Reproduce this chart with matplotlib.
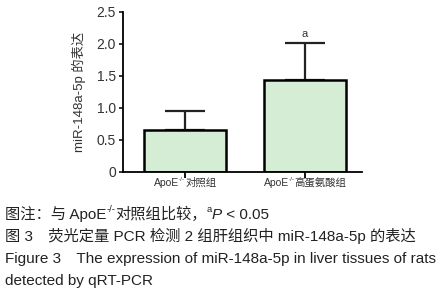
import matplotlib
matplotlib.use("Agg")
import matplotlib.pyplot as plt
from matplotlib.transforms import IdentityTransform

plt.rcParams["font.family"] = ["Liberation Sans", "Noto Sans CJK SC"]

# each group label: (base, superscript, rest)
groups = [("ApoE", "-/-", "对照组"), ("ApoE", "-/-", "高蛋氨酸组")]
means = [0.65, 1.43]
errors = [0.30, 0.58]
sig_marks = ["", "a"]
yticks = [0, 0.5, 1.0, 1.5, 2.0, 2.5]
ytick_labels = ["0", "0.5", "1.0", "1.5", "2.0", "2.5"]

# caption lines as runs of (text, kind)
captions = [
    [("图注：与 ApoE", "n"), ("-/-", "sup"), ("对照组比较，", "n"), ("a", "sup"),
     ("P", "it"), (" < 0.05", "n")],
    [("图 3　荧光定量 PCR 检测 2 组肝组织中 miR-148a-5p 的表达", "n")],
    [("Figure 3　The expression of miR-148a-5p in liver tissues of rats", "n")],
    [("detected by qRT-PCR", "n")],
]

DPI = 100
fig = plt.figure(figsize=(4.46, 3.0), dpi=DPI)
renderer = fig.canvas.get_renderer()


def rich_text(x_px, y_px, runs, size, ha="left", color="#222222"):
    """Place runs of text one after another on one baseline, in pixels."""
    objs = []
    for s, kind in runs:
        fs = size * 0.62 if kind == "sup" else size
        style = "italic" if kind == "it" else "normal"
        t = fig.text(0, 0, s, fontsize=fs, style=style, color=color,
                     transform=IdentityTransform(), va="baseline", ha="left")
        w = t.get_window_extent(renderer).width
        objs.append((t, w, kind))
    total = sum(w for _, w, _ in objs)
    x = x_px - total / 2 if ha == "center" else x_px
    for t, w, kind in objs:
        dy = size * 0.45 * DPI / 72 if kind == "sup" else 0
        t.set_position((x, y_px + dy))
        x += w


ax = fig.add_axes([123 / 446, 1 - 171.7 / 300, 239 / 446, 160 / 300])

x = list(range(len(groups)))
ax.bar(x, means, width=0.68, color="#d6edd5", edgecolor="black", linewidth=1.8, zorder=2)
ax.errorbar(x, means, yerr=[[0] * len(errors), errors], fmt="none", ecolor="#222222",
            elinewidth=1.6, capsize=14.5, capthick=1.6, zorder=1)
for xi, m, e, s in zip(x, means, errors, sig_marks):
    if s:
        ax.text(xi, m + e + 0.07, s, ha="center", va="bottom", fontsize=8, color="#333333")

ax.set_xlim(-0.517, 1.475)
ax.set_ylim(0, 2.5)
ax.set_yticks(yticks)
ax.set_yticklabels(ytick_labels, fontsize=10, color="#333333")
ax.set_xticks(x)
ax.set_xticklabels([""] * len(groups))
ax.set_ylabel("miR-148a-5p 的表达", fontsize=9.5, color="#333333", labelpad=8)
ax.spines["top"].set_visible(False)
ax.spines["right"].set_visible(False)
for sp in ("left", "bottom"):
    ax.spines[sp].set_linewidth(1.3)
ax.tick_params(axis="y", length=3, width=1.1, pad=2)
ax.tick_params(axis="x", length=4, width=1.3)

# group labels under the ticks
for xi, (base, sup, rest) in zip(x, groups):
    px = ax.transData.transform((xi, 0))[0]
    rich_text(px, 300 - 186, [(base, "n"), (sup, "sup"), (rest, "n")], 7.5,
              ha="center", color="#333333")

baselines = [219, 241, 263, 285]
for runs, b in zip(captions, baselines):
    rich_text(5, 300 - b, runs, 11)

fig.savefig("out.png", dpi=DPI)
